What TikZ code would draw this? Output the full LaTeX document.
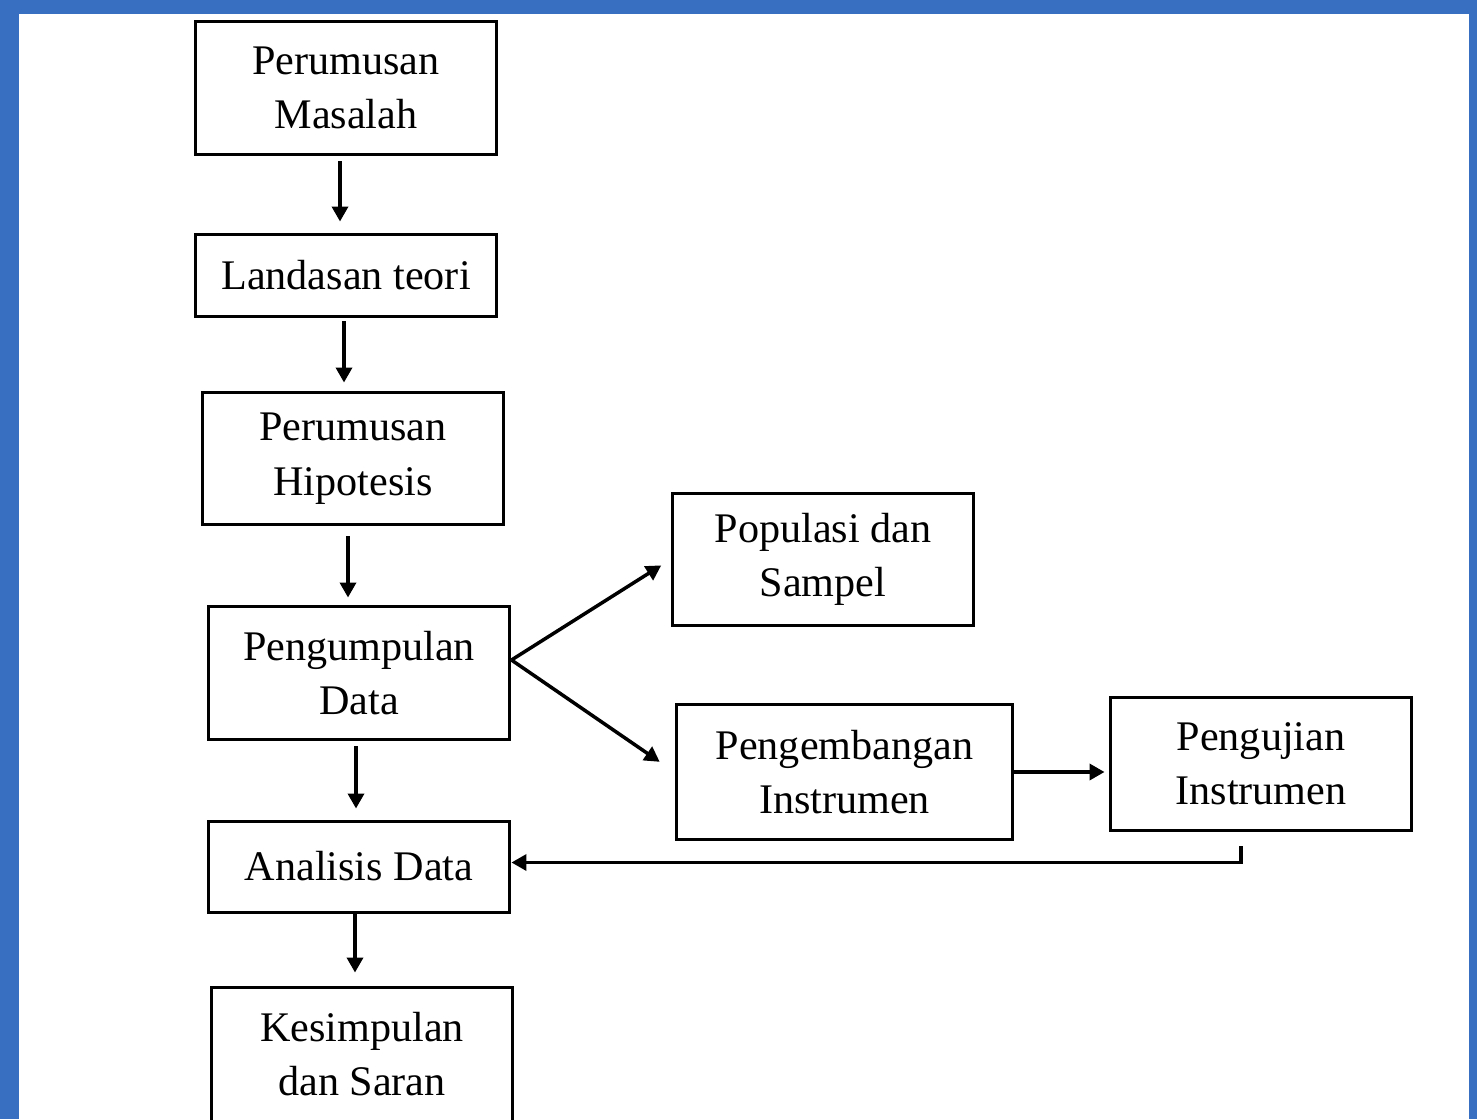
\documentclass[tikz,border=0pt]{standalone}
\usepackage{fontspec}
\setmainfont{Liberation Serif}
\usetikzlibrary{positioning}
\usetikzlibrary{arrows.meta}

\definecolor{frameblue}{RGB}{57,111,193}

\tikzset{
  box/.style = {draw, line width=0.06cm, align=center, inner sep=0pt,
                minimum width=6.04cm, font=\fontsize{24}{31}\selectfont},
  arr/.style = {line width=0.07cm, -{Triangle[length=0.3cm,width=0.32cm]}}
}

\begin{document}
\begin{tikzpicture}
      [
        x = 0.02cm, y = -0.02cm
      ]

      \fill[frameblue] (0,0) rectangle (1477,1119);
      \fill[white] (19,14) rectangle (1469,1119);
      \useasboundingbox (0,0) rectangle (1477,1119);

      \node[box, minimum height=2.68cm] (masalah) at (346,88) {Perumusan\\Masalah};
      \node[box, minimum height=1.66cm] (teori) at (346,275.5) {Landasan teori};
      \node[box, minimum height=2.66cm] (hipotesis) at (353,458.5) {Perumusan\\Hipotesis};
      \node[box, minimum height=2.68cm] (kumpul) at (359,673) {Pengumpulan\\Data};
      \node[box, minimum height=1.82cm] (analisis) at (359,866.5) {Analisis Data};
      \node[box, minimum height=2.68cm] (simpul) at (362,1054) {Kesimpulan\\dan Saran};

      \node[box, minimum height=2.66cm] (populasi) at (823,559.5) {Populasi dan\\Sampel};
      \node[box, minimum height=2.72cm, minimum width=6.74cm] (kembang) at (844.5,772) {Pengembangan\\Instrumen};
      \node[box, minimum height=2.68cm] (uji) at (1261,764) {Pengujian\\Instrumen};

      \draw[arr, shorten <=0.1cm, shorten >=0.22cm] ([xshift=-0.12cm]masalah.south) -- ([xshift=-0.12cm]teori.north);
      \draw[arr, shorten <=0.06cm, shorten >=0.16cm] ([xshift=-0.04cm]teori.south) -- ([xshift=-0.04cm]teori.south |- hipotesis.north);
      \draw[arr, shorten <=0.2cm, shorten >=0.14cm] ([xshift=-0.1cm]hipotesis.south) -- ([xshift=-0.1cm]hipotesis.south |- kumpul.north);
      \draw[arr, shorten <=0.1cm, shorten >=0.22cm] ([xshift=-0.06cm]kumpul.south) -- ([xshift=-0.06cm]analisis.north);
      \draw[arr, shorten >=0.26cm] ([xshift=-0.08cm]analisis.south) -- ([xshift=-0.08cm]analisis.south |- simpul.north);

      \draw[arr, shorten >=0.22cm] ([yshift=0.26cm]kumpul.east) -- (populasi.west);
      \draw[arr, shorten >=0.36cm] ([yshift=0.26cm]kumpul.east) -- (kembang.west);
      \draw[arr, shorten >=0.08cm] (kembang.east) -- (kembang.east -| uji.west);
      \draw[arr] ([xshift=-0.4cm,yshift=-0.28cm]uji.south) |- ([yshift=0.08cm]analisis.east);

    \end{tikzpicture}
\end{document}
